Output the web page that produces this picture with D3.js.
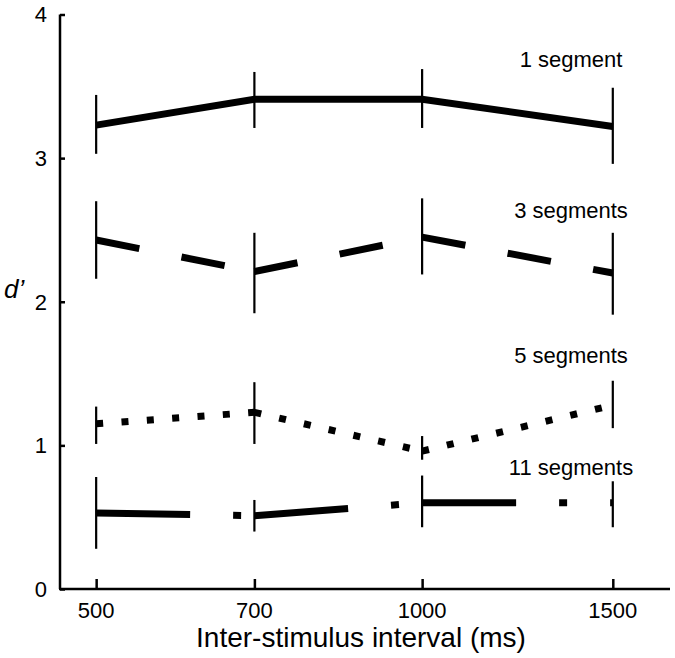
<!DOCTYPE html>
<html>
<head>
<meta charset="utf-8">
<script src="https://cdn.jsdelivr.net/npm/d3@7"></script>
<style>
  html, body { margin: 0; padding: 0; background: #fff; }
  svg { display: block; font-family: "Liberation Sans", Arial, Helvetica, sans-serif; }
</style>
</head>
<body>
<svg id="chart" width="675" height="658"></svg>
<script>
// ---- data ----
const isi = [500, 700, 1000, 1500];
const xTickLabels = ["500", "700", "1000", "1500"];
const yTicks = [0, 1, 2, 3, 4];

const seriesNames = ["1 segment", "3 segments", "5 segments", "11 segments"];

const seg1   = [3.23, 3.41, 3.41, 3.22];
const seg1Lo = [3.03, 3.21, 3.21, 2.96];
const seg1Hi = [3.44, 3.60, 3.62, 3.49];

const seg3   = [2.43, 2.21, 2.45, 2.20];
const seg3Lo = [2.16, 1.92, 2.19, 1.91];
const seg3Hi = [2.70, 2.48, 2.72, 2.48];

const seg5   = [1.15, 1.23, 0.96, 1.28];
const seg5Lo = [1.01, 1.01, 0.90, 1.12];
const seg5Hi = [1.27, 1.44, 1.065, 1.45];

const seg11   = [0.53, 0.51, 0.60, 0.60];
const seg11Lo = [0.28, 0.40, 0.43, 0.43];
const seg11Hi = [0.78, 0.62, 0.79, 0.75];

const labelValues = [3.7, 2.6, 1.58, 0.8]; // y-position (d' units) of series labels

// ---- layout ----
const svg = d3.select("#chart");
const x = d3.scaleLog().domain([463, 1694]).range([60, 670]);
const y = d3.scaleLinear().domain([0, 4]).range([589, 14.5]);

const series = [
  { name: seriesNames[0], v: seg1,  lo: seg1Lo,  hi: seg1Hi,  dash: null },
  { name: seriesNames[1], v: seg3,  lo: seg3Lo,  hi: seg3Hi,  dash: "44,43" },
  { name: seriesNames[2], v: seg5,  lo: seg5Lo,  hi: seg5Hi,  dash: "7,18.4" },
  { name: seriesNames[3], v: seg11, lo: seg11Lo, hi: seg11Hi, dash: "94,43,8,43" }
];

// axes
const yAxis = d3.axisRight(y).tickValues(yTicks).tickSize(5).tickFormat("");
const gy = svg.append("g").attr("transform", "translate(60,0)").call(yAxis);
gy.select(".domain").attr("d", `M0,${y(4)}V${y(0)}`).attr("stroke-width", 2.5).attr("stroke", "#000");
gy.selectAll(".tick line").attr("stroke-width", 2.5).attr("stroke", "#000");

svg.append("g").selectAll("text").data(yTicks).join("text")
  .attr("x", 47).attr("y", d => y(d)).attr("dy", "0.36em")
  .attr("text-anchor", "end").attr("font-size", 22).text(d => d);

const xAxis = d3.axisTop(x).tickValues(isi).tickSize(10).tickFormat("");
const gx = svg.append("g").attr("transform", `translate(0,${y(0)})`).call(xAxis);
gx.select(".domain").attr("d", `M59,0H670`).attr("stroke-width", 2.5).attr("stroke", "#000");
gx.selectAll(".tick line").attr("stroke-width", 2.5).attr("stroke", "#000");

svg.append("g").selectAll("text").data(isi).join("text")
  .attr("x", d => x(d)).attr("y", 618)
  .attr("text-anchor", "middle").attr("font-size", 22)
  .text((d, i) => xTickLabels[i]);

svg.append("text").attr("x", 361).attr("y", 647).attr("text-anchor", "middle")
  .attr("font-size", 28).text("Inter-stimulus interval (ms)");

svg.append("text").attr("x", 4).attr("y", 298).attr("font-size", 26)
  .attr("font-style", "italic").text("d\u2019");

// series
const line = d3.line().x(d => x(d[0])).y(d => y(d[1]));
series.forEach((s, si) => {
  const pts = isi.map((t, i) => [t, s.v[i]]);
  const g = svg.append("g");
  // error bars
  g.selectAll("line.err").data(isi).join("line").attr("class", "err")
    .attr("x1", d => x(d)).attr("x2", d => x(d))
    .attr("y1", (d, i) => y(s.hi[i])).attr("y2", (d, i) => y(s.lo[i]))
    .attr("stroke", "#000").attr("stroke-width", 2.2);
  if (s.dash === null) {
    g.append("path").attr("d", line(pts)).attr("fill", "none")
      .attr("stroke", "#000").attr("stroke-width", 7).attr("stroke-linejoin", "miter");
  } else {
    g.selectAll("path.seg").data(d3.pairs(pts)).join("path").attr("class", "seg")
      .attr("d", d => line(d)).attr("fill", "none")
      .attr("stroke", "#000").attr("stroke-width", 7)
      .attr("stroke-dasharray", s.dash).attr("stroke-linecap", "butt");
  }
});

// series labels
svg.append("g").selectAll("text").data(seriesNames).join("text")
  .attr("x", 571).attr("y", (d, i) => [66.5, 218, 362.5, 475][i])
  .attr("text-anchor", "middle").attr("font-size", 22).text(d => d);
</script>
</body>
</html>
